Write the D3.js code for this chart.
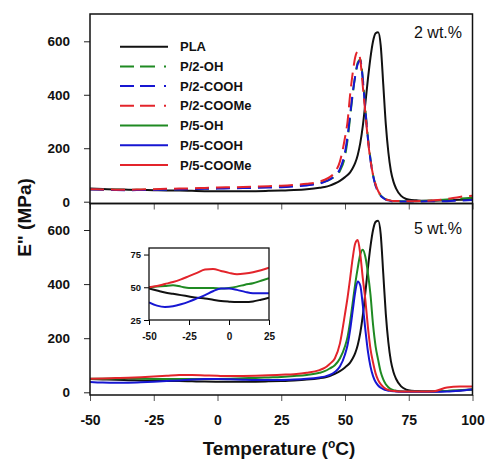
<!DOCTYPE html>
<html>
<head>
<meta charset="utf-8">
<script src="https://cdn.jsdelivr.net/npm/d3@7"></script>
<style>
  html, body { margin: 0; padding: 0; background: #fff; }
  svg { display: block; font-family: "Liberation Sans", Arial, sans-serif; }
</style>
</head>
<body>
<svg id="chart" width="486" height="460"></svg>
<script>
// Loss modulus E'' versus temperature, PLA and its blends (2 wt.% and 5 wt.%)
const temps = [-50,-45,-40,-35,-30,-25,-20,-15,-10,-5,0,5,10,15,20,25,30,35,40,42,44,46,48,
  50,51,52,53,54,55,56,57,58,59,60,61,62,63,64,65,66,67,68,69,70,72,74,76,78,80,85,90,95,100];

const pla = [49,47.5,46,45,44,43,42,41.5,40.5,39.5,39,38.7,38.7,39.2,40.5,42,44,47,52,55,60,68,78,
  92,100,110,125,145,175,220,285,370,460,540,600,630,634,585,440,290,185,115,75,50,22,10,6,5,4,4,5,7,10];

const p2OH = [47,45.5,44.5,44,44.5,45,46,47,48,49,50,51,52,53.5,55,56,59,63,70,75,83,95,115,
  170,230,315,400,470,520,532,460,345,240,160,100,62,38,24,15,9,6,4,3,3,2,2,2,2,3,5,8,12,15];

const p2COOH = [46,44.5,43.5,43,43.5,44,45,46,47,48,49,50,51,52,53,54,57,61,68,74,83,97,122,
  185,245,325,405,470,515,528,455,340,235,155,98,60,36,22,14,8,5,3,2,2,1,1,1,1,1,2,2,4,6];

const p2COOMe = [47,46,45,45,46,47,48,49,50,51.5,53,54,55,56.5,58,60,63,67,75,82,92,110,150,
  240,300,400,480,540,562,530,430,330,230,155,100,65,40,25,15,9,6,4,3,3,2,2,2,2,3,5,10,18,22];

const p5OH = [50,50.5,51,51.5,50.5,49.5,49.5,49.5,49.5,49,49.5,50.5,52,53,55,57,60,64,72,78,88,100,125,
  170,205,260,330,400,460,510,527,500,440,360,250,170,120,75,48,30,19,12,8,6,4,3,3,3,3,3,5,8,10];

const p5COOH = [38.5,36,35,35.5,37,39,41.5,44,47,49,49,48,46.5,45.5,45.5,45.5,47,50,55,58,64,75,95,
  140,175,230,300,370,410,395,320,230,150,95,60,38,25,17,12,8,6,5,4,3,2,2,2,2,2,2,3,6,10];

const p5COOMe = [50,51,52.5,54,56,58.5,61,63.5,64,62.5,61,60,60.5,61.5,63,65,67,72,82,90,105,125,180,
  290,350,420,495,550,563,510,420,340,240,160,110,70,45,30,20,13,9,6,5,4,3,3,3,3,3,4,18,21,21];

const xTicks = [-50, -25, 0, 25, 50, 75, 100];
const yTicks = [0, 200, 400, 600];
const insetXTicks = [-50, -25, 0, 25];
const insetYTicks = [25, 50, 75];
const panelLabels = ["2 wt.%", "5 wt.%"];

const colors = { black: "#111111", green: "#1f8a22", blue: "#1616d2", red: "#e3242b" };
const dashed = "14,7";
const plain = d => String(d); // hyphen-minus, as on the printed axes

const topSeries = [
  { name: "PLA", values: pla, color: colors.black, dash: null },
  { name: "P/2-OH", values: p2OH, color: colors.green, dash: dashed },
  { name: "P/2-COOH", values: p2COOH, color: colors.blue, dash: dashed },
  { name: "P/2-COOMe", values: p2COOMe, color: colors.red, dash: dashed }
];
const bottomSeries = [
  { name: "PLA", values: pla, color: colors.black, dash: null },
  { name: "P/5-OH", values: p5OH, color: colors.green, dash: null },
  { name: "P/5-COOH", values: p5COOH, color: colors.blue, dash: null },
  { name: "P/5-COOMe", values: p5COOMe, color: colors.red, dash: null }
];
const legendItems = [
  { name: "PLA", color: colors.black, dash: null },
  { name: "P/2-OH", color: colors.green, dash: "14,6,15,9,2,60" },
  { name: "P/2-COOH", color: colors.blue, dash: "14,6,15,9,2,60" },
  { name: "P/2-COOMe", color: colors.red, dash: "14,6,15,9,2,60" },
  { name: "P/5-OH", color: colors.green, dash: null },
  { name: "P/5-COOH", color: colors.blue, dash: null },
  { name: "P/5-COOMe", color: colors.red, dash: null }
];

const svg = d3.select("#chart");
const left = 90, right = 472.5;
const x = d3.scaleLinear().domain([-50, 100]).range([left, right]);

const panels = [
  { top: 14, bottom: 203.5, y: d3.scaleLinear().domain([0, 600]).range([201.7, 41.3]), series: topSeries, label: panelLabels[0], labelY: 37.5 },
  { top: 203.5, bottom: 395, y: d3.scaleLinear().domain([0, 600]).range([392.3, 230]), series: bottomSeries, label: panelLabels[1], labelY: 233.5 }
];

const defs = svg.append("defs");

panels.forEach((p, i) => {
  const g = svg.append("g");
  defs.append("clipPath").attr("id", "clip" + i)
    .append("rect").attr("x", left).attr("y", p.top).attr("width", right - left).attr("height", p.bottom - p.top);

  const line = d3.line()
    .x((d, k) => x(temps[k]))
    .y(d => p.y(d))
    .curve(d3.curveMonotoneX);

  const curves = g.append("g").attr("clip-path", `url(#clip${i})`);
  p.series.forEach(s => {
    curves.append("path")
      .attr("d", line(s.values))
      .attr("fill", "none")
      .attr("stroke", s.color)
      .attr("stroke-width", 2)
      .attr("stroke-dasharray", s.dash)
      .attr("stroke-linejoin", "round");
  });

  // y axis
  const yAxis = g.append("g").attr("transform", `translate(${left},0)`)
    .call(d3.axisLeft(p.y).tickValues(yTicks).tickSize(6).tickPadding(14).tickFormat(plain));
  yAxis.select(".domain").remove();
  yAxis.selectAll("line").attr("stroke", "#222").attr("stroke-width", 1);
  yAxis.selectAll("text").attr("font-size", 13.5).attr("font-weight", "bold").attr("fill", "#111")
    .attr("font-family", "'Liberation Sans', Arial, sans-serif");

  // x axis ticks at the bottom of each panel
  const xAxis = g.append("g").attr("transform", `translate(0,${p.bottom})`)
    .call(d3.axisBottom(x).tickValues(xTicks).tickSize(6).tickPadding(14).tickFormat(i === 1 ? plain : ""));
  xAxis.select(".domain").remove();
  xAxis.selectAll("line").attr("stroke", "#555").attr("stroke-width", 1);
  xAxis.selectAll("text").attr("font-size", 14).attr("font-weight", "bold").attr("fill", "#111")
    .attr("font-family", "'Liberation Sans', Arial, sans-serif");

  // frame
  g.append("rect").attr("x", left).attr("y", p.top).attr("width", right - left).attr("height", p.bottom - p.top)
    .attr("fill", "none").attr("stroke", "#111").attr("stroke-width", 1.5);

  g.append("text").attr("x", 462).attr("y", p.labelY).attr("text-anchor", "end")
    .attr("font-size", 16).attr("fill", "#111").text(p.label);
});

// legend
const legend = svg.append("g");
legendItems.forEach((item, k) => {
  const cy = 46.7 + k * 19.7;
  legend.append("line").attr("x1", 120).attr("x2", 168).attr("y1", cy).attr("y2", cy)
    .attr("stroke", item.color).attr("stroke-width", 2).attr("stroke-dasharray", item.dash);
  legend.append("text").attr("x", 180).attr("y", cy + 4.6)
    .attr("font-size", 13).attr("font-weight", "bold").attr("fill", "#111").text(item.name);
});

// inset: low-temperature detail of the 5 wt.% panel
const inset = svg.append("g");
const ix = d3.scaleLinear().domain([-50, 25]).range([149, 269]);
const iy = d3.scaleLinear().domain([25, 80]).range([320, 248]);
inset.append("rect").attr("x", 149).attr("y", 248).attr("width", 120).attr("height", 72).attr("fill", "#fff");
defs.append("clipPath").attr("id", "clipInset")
  .append("rect").attr("x", 149).attr("y", 248).attr("width", 120).attr("height", 72);
const iLine = d3.line()
  .defined((d, k) => temps[k] <= 25)
  .x((d, k) => ix(temps[k]))
  .y(d => iy(d))
  .curve(d3.curveMonotoneX);
const insetCurves = inset.append("g").attr("clip-path", "url(#clipInset)");
bottomSeries.forEach(s => {
  insetCurves.append("path").attr("d", iLine(s.values)).attr("fill", "none")
    .attr("stroke", s.color).attr("stroke-width", 2);
});
const iyAxis = inset.append("g").attr("transform", "translate(149,0)")
  .call(d3.axisLeft(iy).tickValues(insetYTicks).tickSize(5).tickPadding(3).tickFormat(plain));
iyAxis.select(".domain").remove();
iyAxis.selectAll("text").attr("font-size", 9.5).attr("font-weight", "bold").attr("fill", "#111")
  .attr("font-family", "'Liberation Sans', Arial, sans-serif");
const ixAxis = inset.append("g").attr("transform", "translate(0,320)")
  .call(d3.axisBottom(ix).tickValues(insetXTicks).tickSize(5).tickPadding(8).tickFormat(plain));
ixAxis.select(".domain").remove();
ixAxis.selectAll("text").attr("font-size", 10).attr("font-weight", "bold").attr("fill", "#111")
  .attr("font-family", "'Liberation Sans', Arial, sans-serif");
inset.append("rect").attr("x", 149).attr("y", 248).attr("width", 120).attr("height", 72)
  .attr("fill", "none").attr("stroke", "#111").attr("stroke-width", 1.3);

// axis titles
svg.append("text").attr("x", 279).attr("y", 455).attr("text-anchor", "middle")
  .attr("font-size", 19).attr("font-weight", "bold").attr("fill", "#111")
  .html('Temperature (<tspan dy="-7" font-size="12">o</tspan><tspan dy="7">C)</tspan>');
svg.append("text").attr("transform", "translate(31,217.5) rotate(-90)").attr("text-anchor", "middle")
  .attr("font-size", 19).attr("font-weight", "bold").attr("fill", "#111")
  .text('E" (MPa)');
</script>
</body>
</html>
